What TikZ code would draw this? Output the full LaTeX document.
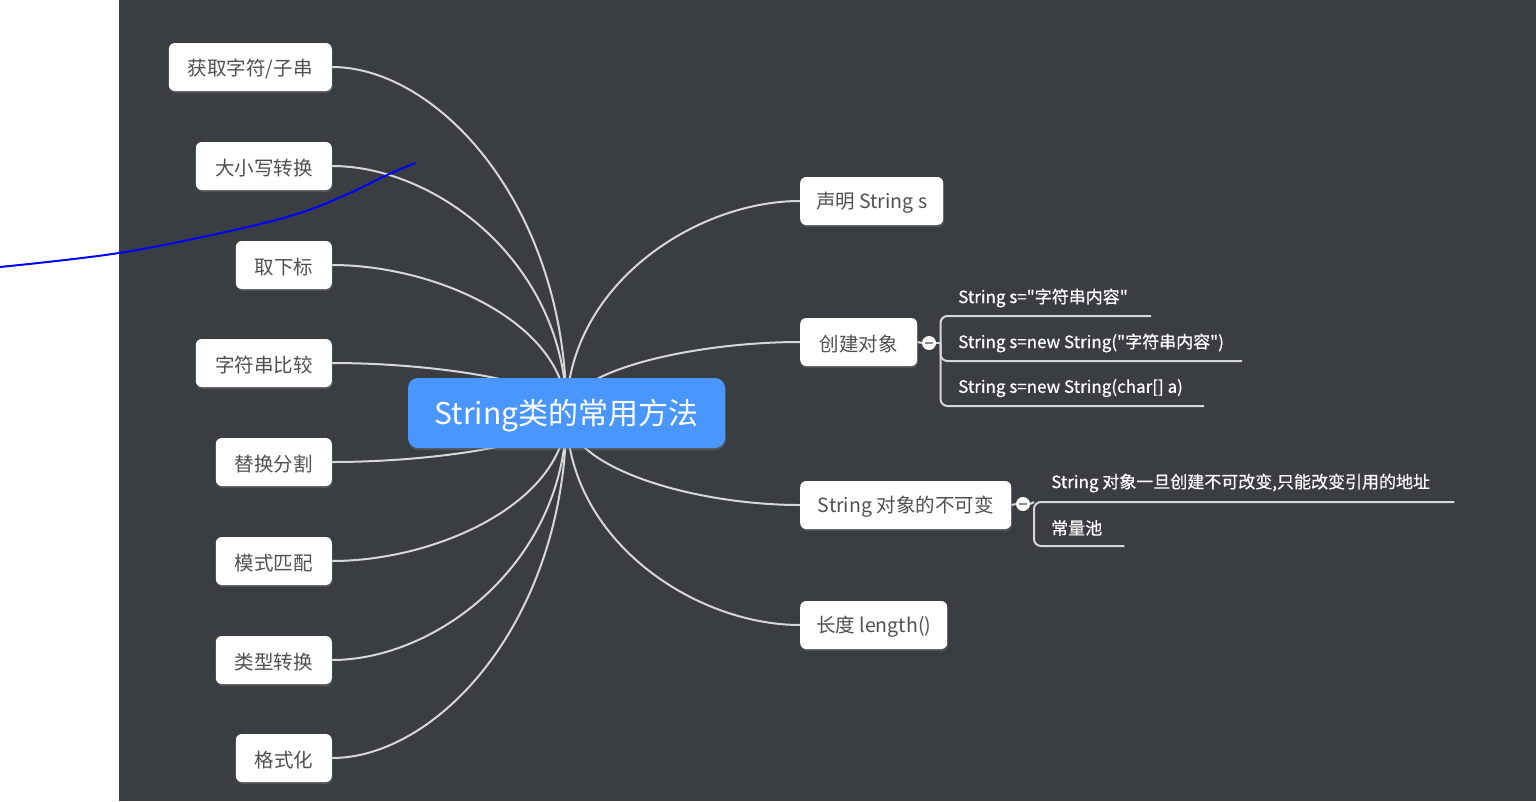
\documentclass[tikz,border=0pt]{standalone}
\usepackage{fontspec}
\setmainfont{Noto Sans CJK SC}
\newfontfamily\mmfont{Noto Sans CJK SC}
\newfontfamily\mmsubfont{Noto Sans CJK SC}[FakeBold=0.6]
\usetikzlibrary{calc,shadows}
\definecolor{bgdark}{RGB}{58,61,66}
\definecolor{rootblue}{RGB}{74,150,255}
\definecolor{nodetxt}{RGB}{80,80,80}
\definecolor{linecol}{RGB}{215,215,215}
\definecolor{minuscol}{RGB}{140,140,140}
\definecolor{penblue}{RGB}{0,0,255}
\pgfdeclarelayer{back}
\pgfdeclarelayer{edges}
\pgfsetlayers{back,edges,main}
\newcommand\mmdown[2]{\raisebox{-#1}[\height][\depth]{#2}}
\tikzset{
  topic/.style={fill=white, rounded corners=6, minimum height=48, inner sep=0,
    text=nodetxt, font=\mmfont\fontsize{19.5}{22}\selectfont,
    drop shadow={shadow xshift=0.8pt, shadow yshift=-2pt, opacity=0.35}},
  lefttopic/.style={topic, anchor=east},
  righttopic/.style={topic, anchor=west},
  rootnode/.style={fill=rootblue, rounded corners=10, minimum width=317,
    minimum height=70, inner sep=0, text=white, font=\mmfont\fontsize{30}{34}\selectfont,
    drop shadow={shadow xshift=0.8pt, shadow yshift=-2pt, opacity=0.35}},
  conn/.style={draw=linecol, line width=2},
  branch/.style={to path={.. controls ($(\tikztostart)!0.6!(\tikztostart |- \tikztotarget)$)
     and ($(\tikztotarget)!0.45!(\tikztostart |- \tikztotarget)$) .. (\tikztotarget)}},
  subitem/.style={text=white, inner sep=0, anchor=west, font=\mmsubfont\fontsize{17}{20}\selectfont},
  collapse/.style={circle, fill=white, minimum size=14, inner sep=0,
    path picture={\draw[minuscol, line width=2.5]
      ([xshift=-4]path picture bounding box.center) --
      ([xshift=4]path picture bounding box.center);}},
}
\begin{document}
\begin{tikzpicture}[x=1pt,y=-1pt]
\useasboundingbox (0,0) rectangle (1536,801);
\begin{pgfonlayer}{back}
  \fill[white] (0,0) rectangle (119,801);
  \fill[bgdark] (119,0) rectangle (1536,801);
\end{pgfonlayer}

% root
\node[rootnode] (root) at (566.5,413) {\mmdown{2.5pt}{String类的常用方法}};

% left topics
\node[lefttopic, minimum width=163] (l1) at (332,67)  {\mmdown{2pt}{获取字符/子串}};
\node[lefttopic, minimum width=136] (l2) at (332,166) {\mmdown{2pt}{大小写转换}};
\node[lefttopic, minimum width=96]  (l3) at (332,265) {\mmdown{2pt}{取下标}};
\node[lefttopic, minimum width=136] (l4) at (332,363) {\mmdown{2pt}{字符串比较}};
\node[lefttopic, minimum width=116] (l5) at (332,462) {\mmdown{2pt}{替换分割}};
\node[lefttopic, minimum width=116] (l6) at (332,561) {\mmdown{2pt}{模式匹配}};
\node[lefttopic, minimum width=116] (l7) at (332,660) {\mmdown{2pt}{类型转换}};
\node[lefttopic, minimum width=96]  (l8) at (332,758) {\mmdown{2pt}{格式化}};

% right topics
\node[righttopic, minimum width=143] (r1) at (800,201) {\mmdown{2pt}{声明 String s}};
\node[righttopic, minimum width=117] (r2) at (800,342) {\mmdown{2pt}{创建对象}};
\node[righttopic, minimum width=211] (r3) at (800,505) {\mmdown{2pt}{String 对象的不可变}};
\node[righttopic, minimum width=147] (r4) at (800,625) {\mmdown{2pt}{长度 length()}};

% collapse buttons
\node[collapse] (c1) at (929,343) {};
\node[collapse] (c2) at (1023,504) {};

% sub items
\node[subitem] (s1) at (958,298) {String s="字符串内容"};
\node[subitem] (s2) at (958,343) {String s=new String("字符串内容")};
\node[subitem] (s3) at (958,388) {String s=new String(char[] a)};
\node[subitem] (t1) at (1051,483) {String 对象一旦创建不可改变,只能改变引用的地址};
\node[subitem] (t2) at (1051,528) {常量池};

% spine coordinates
\coordinate (k1) at (940.5,343);
\coordinate (k1top) at (940.5,316);
\coordinate (k1mid) at (940.5,361);
\coordinate (k1bot) at (940.5,406);
\coordinate (k2) at (1034,502);
\coordinate (k2bot) at (1034,546);
\coordinate (e1) at ($(s1.east)+(23,18)$);
\coordinate (e2) at ($(s2.east)+(18,18)$);
\coordinate (e3) at ($(s3.east)+(21,18)$);
\coordinate (f1) at ($(t1.east)+(24,19)$);
\coordinate (f2) at ($(t2.east)+(22,18)$);

\begin{pgfonlayer}{edges}
  \foreach \n in {l1,l2,l3,l4,l5,l6,l7,l8}{
    \draw[conn] (root.center) to[branch] (\n.east);
  }
  \foreach \n in {r1,r2,r3,r4}{
    \draw[conn] (root.center) to[branch] (\n.west);
  }
  % create-object group
  \draw[conn] (r2.east) -- (c1.west);
  \draw[conn] (c1.east) -- (k1);
  \draw[conn, rounded corners=7] (e1) -- (k1top) -- (k1bot) -- (e3);
  \draw[conn, rounded corners=7] (k1) -- (k1mid) -- (e2);
  % immutable group
  \draw[conn] (r3.east) -- (c2.west);
  \draw[conn] (c2.east) -- (k2);
  \draw[conn, rounded corners=7] (f1) -- (k2) -- (k2bot) -- (f2);
\end{pgfonlayer}

% freehand pen stroke
\draw[penblue, line width=2, line cap=round] plot[smooth, tension=0.6] coordinates
  {(0,267) (119,253) (230,231) (300,213) (350,193) (385,176) (415,163)};
\end{tikzpicture}
\end{document}
